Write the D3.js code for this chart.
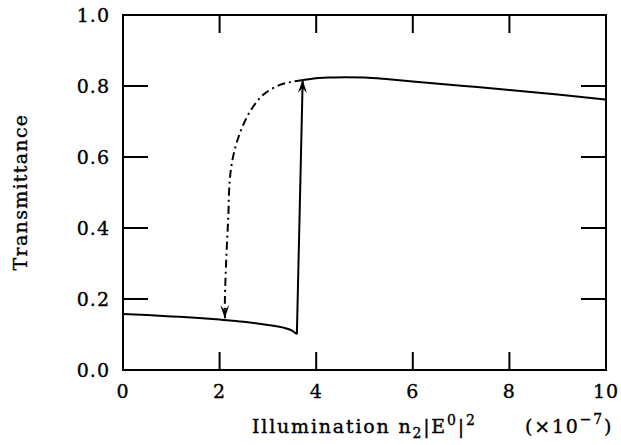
<!DOCTYPE html>
<html>
<head>
<meta charset="utf-8">
<script src="https://cdn.jsdelivr.net/npm/d3@7"></script>
<style>
  body { margin: 0; background: #fff; }
  text { font-family: "DejaVu Serif", "Liberation Serif", serif; fill: #000; stroke: #000; stroke-width: 0.35; }
</style>
</head>
<body>
<script>
// data
const xTicks = [0, 2, 4, 6, 8, 10];
const yTicks = [0.0, 0.2, 0.4, 0.6, 0.8, 1.0];

// lower branch (solid)
const lowerX = [0, 0.5, 1, 1.5, 2, 2.5, 3, 3.3, 3.5, 3.6];
const lowerY = [0.158, 0.155, 0.151, 0.147, 0.142, 0.136, 0.127, 0.12, 0.111, 0.101];

// jump up (solid, arrow at top)
const jumpX = [3.6, 3.72];
const jumpY = [0.101, 0.817];

// upper branch (solid)
const upperX = [3.72, 4.0, 4.3, 4.6, 5, 5.5, 6, 7, 8, 9, 10];
const upperY = [0.817, 0.822, 0.824, 0.825, 0.824, 0.819, 0.813, 0.801, 0.789, 0.776, 0.762];

// return path (dash-dot, arrow at bottom)
const backX = [3.72, 3.5, 3.25, 2.9, 2.63, 2.42, 2.28, 2.21, 2.18, 2.14, 2.11, 2.11];
const backY = [0.817, 0.812, 0.803, 0.775, 0.728, 0.667, 0.601, 0.535, 0.432, 0.319, 0.2, 0.146];

const W = 621, H = 445;
const m = { left: 123, right: 15, top: 15, bottom: 75 };

const svg = d3.select("body").append("svg")
  .attr("width", W).attr("height", H);

const x = d3.scaleLinear().domain([0, 10]).range([m.left, W - m.right]);
const y = d3.scaleLinear().domain([0, 1]).range([H - m.bottom, m.top]);

// arrow markers
const defs = svg.append("defs");
defs.append("marker")
  .attr("id", "arrow")
  .attr("viewBox", "-14 -6 16 12")
  .attr("refX", 0).attr("refY", 0)
  .attr("markerWidth", 16).attr("markerHeight", 12)
  .attr("markerUnits", "userSpaceOnUse")
  .attr("orient", "auto")
  .append("path")
  .attr("d", "M0,0 L-13,-4.5 L-8,0 L-13,4.5 Z")
  .attr("fill", "#000");

// frame
svg.append("rect")
  .attr("x", x(0)).attr("y", y(1))
  .attr("width", x(10) - x(0)).attr("height", y(0) - y(1))
  .attr("fill", "none").attr("stroke", "#000").attr("stroke-width", 2);

// inward ticks
const tk = svg.append("g").attr("stroke", "#000").attr("stroke-width", 2);
xTicks.slice(1, -1).forEach(v => {
  tk.append("line").attr("x1", x(v)).attr("x2", x(v)).attr("y1", y(0)).attr("y2", y(0) - 18);
  tk.append("line").attr("x1", x(v)).attr("x2", x(v)).attr("y1", y(1)).attr("y2", y(1) + 18);
});
yTicks.slice(1, -1).forEach(v => {
  tk.append("line").attr("x1", x(0)).attr("x2", x(0) + 25).attr("y1", y(v)).attr("y2", y(v));
  tk.append("line").attr("x1", x(10)).attr("x2", x(10) - 25).attr("y1", y(v)).attr("y2", y(v));
});

// tick labels
svg.append("g").selectAll("text").data(xTicks).join("text")
  .attr("x", d => x(d)).attr("y", 398)
  .attr("text-anchor", "middle").attr("font-size", 19)
  .attr("letter-spacing", 1)
  .text(d => d);
svg.append("g").selectAll("text").data(yTicks).join("text")
  .attr("x", 110).attr("y", d => y(d) + 7)
  .attr("text-anchor", "end").attr("font-size", 19)
  .attr("letter-spacing", 1)
  .text(d => d3.format(".1f")(d));

// axis titles
svg.append("text")
  .attr("transform", `translate(27,192) rotate(-90)`)
  .attr("text-anchor", "middle").attr("font-size", 19)
  .attr("letter-spacing", 1.3)
  .text("Transmittance");

const xl = svg.append("text").attr("x", 252).attr("y", 433)
  .attr("font-size", 19).attr("letter-spacing", 1.8);
xl.append("tspan").text("Illumination n");
xl.append("tspan").attr("font-size", 14).attr("dy", 5).text("2");
xl.append("tspan").attr("dy", -5).text("|E");
xl.append("tspan").attr("font-size", 14).attr("dy", -8).text("0");
xl.append("tspan").attr("dy", 8).text("|");
xl.append("tspan").attr("font-size", 14).attr("dy", -8).text("2");
xl.append("tspan").attr("dy", 8).attr("x", 525).text("(×10");
xl.append("tspan").attr("font-size", 14).attr("dy", -9).text("−7");
xl.append("tspan").attr("dy", 9).text(")");

// curves
const zip = (xs, ys) => xs.map((v, i) => [v, ys[i]]);
const line = d3.line().x(d => x(d[0])).y(d => y(d[1]));

svg.append("path")
  .datum(zip(lowerX, lowerY))
  .attr("d", line.curve(d3.curveMonotoneX))
  .attr("fill", "none").attr("stroke", "#000").attr("stroke-width", 2);

svg.append("path")
  .datum(zip(upperX, upperY))
  .attr("d", line.curve(d3.curveMonotoneX))
  .attr("fill", "none").attr("stroke", "#000").attr("stroke-width", 2);

svg.append("path")
  .datum(zip(jumpX, jumpY))
  .attr("d", line.curve(d3.curveLinear))
  .attr("fill", "none").attr("stroke", "#000").attr("stroke-width", 2)
  .attr("marker-end", "url(#arrow)");

svg.append("path")
  .datum(zip(backX, backY))
  .attr("d", line.curve(d3.curveCatmullRom))
  .attr("fill", "none").attr("stroke", "#000").attr("stroke-width", 2)
  .attr("stroke-dasharray", "8,4,2,4")
  .attr("marker-end", "url(#arrow)");
</script>
</body>
</html>
